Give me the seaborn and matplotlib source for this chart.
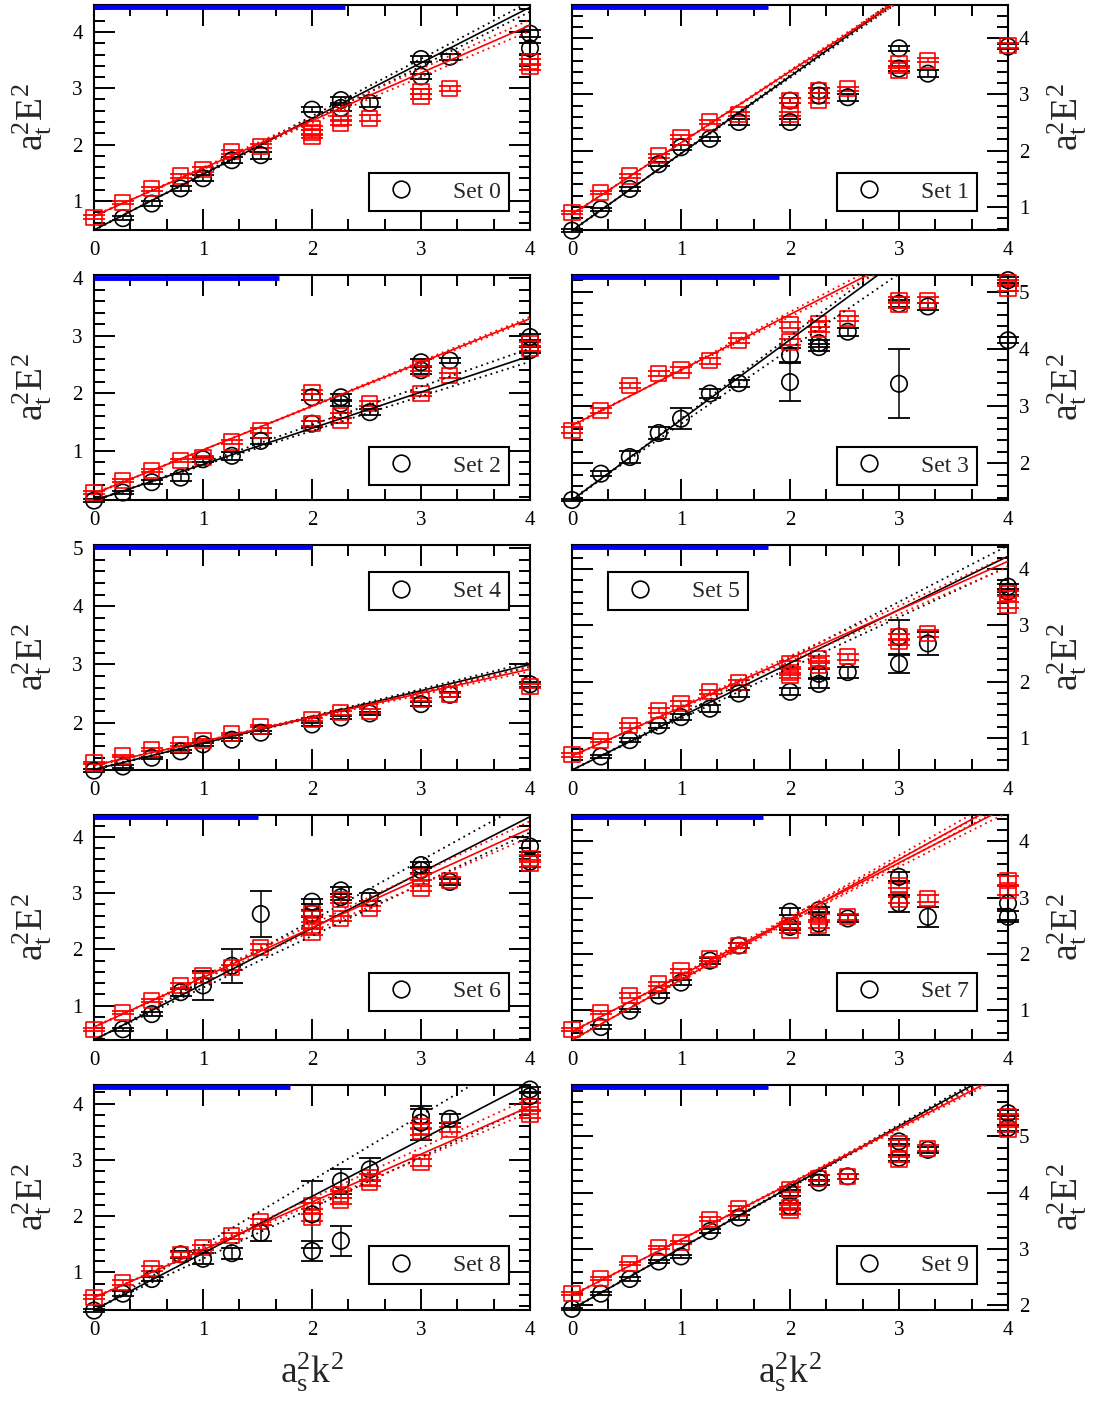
import numpy as np
import pandas as pd
import matplotlib
matplotlib.use("Agg")
import matplotlib.pyplot as plt
import seaborn as sns
from matplotlib.lines import Line2D
from matplotlib.ticker import MultipleLocator

sns.set_theme(style="ticks")
plt.rcParams['font.family'] = ['Liberation Serif', 'DejaVu Serif']
plt.rcParams['mathtext.fontset'] = 'custom'
plt.rcParams['mathtext.rm'] = 'Liberation Serif'
plt.rcParams['mathtext.it'] = 'Liberation Serif:italic'

# ---------------- data (x, y, error) ----------------
set_names = ["Set 0", "Set 1", "Set 2", "Set 3", "Set 4",
             "Set 5", "Set 6", "Set 7", "Set 8", "Set 9"]

s0_black = [(0.265,0.69,.04),(0.53,0.95,.04),(0.795,1.22,.05),(1.0,1.40,.05),(1.265,1.72,.05),(1.53,1.81,.06),
            (2.0,2.62,.05),(2.265,2.79,.05),(2.265,2.65,.05),(2.53,2.74,.08),(3.0,3.52,.05),(3.0,3.21,.05),
            (3.265,3.56,.05),(4.0,3.97,.06),(4.0,3.71,.1)]
s0_red = [(0,0.71,.04),(0.265,0.97,.03),(0.53,1.21,.03),(0.795,1.44,.04),(1.0,1.56,.04),(1.265,1.87,.04),
          (1.53,1.97,.04),(2.0,2.29,.04),(2.0,2.21,.04),(2.0,2.15,.04),(2.265,2.47,.04),(2.265,2.38,.04),
          (2.53,2.47,.05),(3.0,2.94,.04),(3.0,2.85,.04),(3.265,3.0,.04),(4.0,3.47,.05),(4.0,3.38,.05)]

s1_black = [(0,0.58,.02),(0.265,0.96,.03),(0.53,1.32,.04),(0.795,1.76,.04),(1.0,2.06,.04),(1.265,2.21,.04),
            (1.53,2.51,.05),(2.0,2.89,.05),(2.0,2.51,.05),(2.265,3.07,.05),(2.265,2.98,.05),(2.53,2.95,.06),
            (3.0,3.82,.05),(3.0,3.46,.05),(3.265,3.37,.06),(4.0,3.85,.04)]
s1_red = [(0,0.90,.03),(0.265,1.26,.03),(0.53,1.55,.03),(0.795,1.91,.04),(1.0,2.24,.04),(1.265,2.51,.04),
          (1.53,2.65,.04),(2.0,2.89,.04),(2.0,2.65,.04),(2.265,3.07,.04),(2.265,2.89,.04),(2.53,3.10,.04),
          (3.0,3.55,.04),(3.0,3.43,.04),(3.265,3.61,.04),(4.0,3.87,.04)]

s2_black = [(0,0.13,.02),(0.265,0.27,.03),(0.53,0.45,.03),(0.795,0.53,.06),(1.0,0.85,.04),(1.265,0.91,.07),
            (1.53,1.17,.05),(2.0,1.93,.05),(2.0,1.47,.05),(2.265,1.93,.05),(2.265,1.82,.05),(2.53,1.67,.05),
            (3.0,2.54,.06),(3.0,2.40,.06),(3.265,2.57,.05),(4.0,2.98,.05),(4.0,2.75,.05)]
s2_red = [(0,0.27,.03),(0.265,0.48,.03),(0.53,0.65,.03),(0.795,0.83,.03),(1.0,0.88,.03),(1.265,1.15,.03),
          (1.53,1.35,.04),(2.0,2.02,.04),(2.0,1.47,.04),(2.265,1.61,.04),(2.265,1.52,.04),(2.53,1.82,.04),
          (3.0,2.43,.04),(3.0,1.99,.04),(3.265,2.31,.04),(4.0,2.86,.04),(4.0,2.78,.04)]

s3_black = [(0,1.36,.02),(0.265,1.82,.04),(0.53,2.11,.1),(0.795,2.53,.1),(1.0,2.78,.18),(1.265,3.22,.08),
            (1.53,3.40,.06),(2.0,3.89,.12),(2.0,3.42,.33),(2.265,4.03,.06),(2.265,4.10,.06),(2.53,4.30,.07),
            (3.0,4.79,.06),(3.0,3.39,.6),(3.265,4.74,.06),(4.0,4.15,.05),(4.0,5.2,.05)]
s3_red = [(0,2.58,.05),(0.265,2.92,.04),(0.53,3.36,.05),(0.795,3.57,.05),(1.0,3.63,.05),(1.265,3.79,.05),
          (1.53,4.15,.04),(2.0,4.42,.05),(2.0,4.12,.05),(2.265,4.44,.05),(2.265,4.34,.05),(2.53,4.53,.05),
          (3.0,4.85,.05),(3.0,4.77,.05),(3.265,4.85,.05),(4.0,5.15,.05),(4.0,5.06,.05)]

s4_black = [(0,1.18,.02),(0.265,1.25,.02),(0.53,1.40,.02),(0.795,1.51,.02),(1.0,1.63,.03),(1.265,1.71,.03),
            (1.53,1.83,.03),(2.0,1.97,.03),(2.265,2.09,.03),(2.53,2.16,.03),(3.0,2.32,.04),(3.265,2.48,.04),
            (4.0,2.66,.04)]
s4_red = [(0,1.31,.02),(0.265,1.43,.02),(0.53,1.54,.02),(0.795,1.63,.02),(1.0,1.70,.02),(1.265,1.81,.02),
          (1.53,1.94,.02),(2.0,2.06,.03),(2.265,2.17,.03),(2.53,2.20,.03),(3.0,2.40,.03),(3.265,2.48,.03),
          (4.0,2.63,.04)]

s5_black = [(0.265,0.67,.03),(0.53,0.96,.04),(0.795,1.22,.05),(1.0,1.37,.05),(1.265,1.52,.06),(1.53,1.79,.06),
            (2.0,1.82,.06),(2.265,1.96,.08),(2.265,2.14,.08),(2.53,2.17,.1),(3.0,2.32,.16),(3.0,2.80,.3),
            (3.265,2.68,.2),(4.0,3.69,.05),(4.0,3.60,.05)]
s5_red = [(0,0.70,.03),(0.265,0.95,.03),(0.53,1.22,.04),(0.795,1.49,.04),(1.0,1.61,.04),(1.265,1.82,.04),
          (1.53,1.99,.04),(2.0,2.32,.05),(2.0,2.17,.05),(2.0,2.11,.05),(2.265,2.41,.05),(2.265,2.29,.05),
          (2.53,2.44,.05),(3.0,2.80,.05),(3.0,2.71,.05),(3.265,2.86,.06),(4.0,3.57,.05),(4.0,3.36,.05)]

s6_black = [(0.265,0.58,.03),(0.53,0.85,.04),(0.795,1.24,.06),(1.0,1.36,.25),(1.265,1.71,.3),(1.53,2.63,.4),
            (2.0,2.85,.05),(2.0,2.64,.06),(2.265,3.05,.06),(2.265,2.93,.06),(2.53,2.93,.07),(3.0,3.50,.05),
            (3.0,3.41,.05),(3.265,3.20,.06),(4.0,3.83,.1),(4.0,3.56,.1)]
s6_red = [(0,0.58,.03),(0.265,0.88,.03),(0.53,1.09,.03),(0.795,1.36,.04),(1.0,1.54,.04),(1.265,1.68,.05),
          (1.53,2.04,.05),(2.0,2.64,.05),(2.0,2.43,.05),(2.0,2.31,.05),(2.265,2.88,.05),(2.265,2.55,.05),
          (2.53,2.73,.05),(3.0,3.29,.05),(3.0,3.08,.05),(3.265,3.23,.05),(4.0,3.62,.06),(4.0,3.53,.06)]

s7_black = [(0.265,0.70,.03),(0.53,0.99,.03),(0.795,1.26,.05),(1.0,1.49,.05),(1.265,1.88,.05),(1.53,2.15,.05),
            (2.0,2.75,.06),(2.0,2.48,.06),(2.265,2.78,.06),(2.265,2.54,.2),(2.53,2.63,.06),(3.0,3.37,.08),
            (3.0,2.90,.15),(3.265,2.66,.18),(4.0,2.90,.3),(4.0,2.66,.1)]
s7_red = [(0,0.66,.03),(0.265,0.96,.03),(0.53,1.26,.05),(0.795,1.47,.04),(1.0,1.70,.04),(1.265,1.91,.04),
          (1.53,2.15,.04),(2.0,2.51,.05),(2.0,2.42,.05),(2.265,2.66,.05),(2.265,2.51,.05),(2.53,2.66,.05),
          (3.0,3.22,.05),(3.0,2.96,.05),(3.265,2.99,.06),(4.0,3.31,.08),(4.0,3.13,.08)]

s8_black = [(0,0.32,.02),(0.265,0.62,.04),(0.53,0.88,.04),(0.795,1.32,.06),(1.0,1.24,.1),(1.265,1.34,.1),
            (1.53,1.70,.15),(2.0,1.38,.17),(2.0,2.03,.6),(2.265,1.56,.27),(2.265,2.62,.22),(2.53,2.83,.2),
            (3.0,3.78,.12),(3.0,3.66,.3),(3.265,3.73,.08),(4.0,4.25,.05),(4.0,4.13,.05)]
s8_red = [(0,0.56,.04),(0.265,0.82,.04),(0.53,1.07,.04),(0.795,1.32,.04),(1.0,1.44,.04),(1.265,1.65,.05),
          (1.53,1.90,.05),(2.0,2.18,.06),(2.0,1.97,.06),(2.265,2.39,.06),(2.265,2.27,.06),(2.53,2.68,.06),
          (2.53,2.59,.06),(3.0,3.60,.06),(3.0,3.51,.06),(3.0,2.95,.06),(3.265,3.54,.05),(4.0,3.95,.06),
          (4.0,3.81,.06)]

s9_black = [(0,1.94,.02),(0.265,2.21,.03),(0.53,2.47,.03),(0.795,2.78,.03),(1.0,2.87,.03),(1.265,3.32,.04),
            (1.53,3.56,.04),(2.0,4.00,.05),(2.0,3.76,.05),(2.265,4.18,.05),(2.265,4.26,.05),(2.53,4.29,.05),
            (3.0,4.91,.05),(3.0,4.62,.05),(3.265,4.76,.05),(4.0,5.41,.05),(4.0,5.15,.05)]
s9_red = [(0,2.21,.03),(0.265,2.48,.03),(0.53,2.74,.03),(0.795,3.03,.03),(1.0,3.12,.03),(1.265,3.53,.04),
          (1.53,3.72,.04),(2.0,4.06,.05),(2.0,3.74,.05),(2.0,3.68,.05),(2.265,4.26,.05),(2.53,4.29,.05),
          (3.0,4.88,.05),(3.0,4.59,.05),(3.265,4.79,.05),(4.0,5.35,.05),(4.0,5.12,.05)]

black_sets = [s0_black, s1_black, s2_black, s3_black, s4_black, s5_black, s6_black, s7_black, s8_black, s9_black]
red_sets = [s0_red, s1_red, s2_red, s3_red, s4_red, s5_red, s6_red, s7_red, s8_red, s9_red]

# fit lines: (y at x=0, y at x=4) for central, upper, lower
fit_x = [0.0, 4.0]
black_fit = [(0.48,4.44),(0.58,6.06),(0.13,2.65),(1.36,6.96),(1.20,3.00),(0.43,4.23),(0.39,4.36),(0.47,4.75),(0.33,4.37),(1.94,6.26)]
black_hi = [(0.47,4.54),(0.57,6.12),(0.12,2.78),(1.34,7.10),(1.19,3.04),(0.42,4.42),(0.38,4.65),(0.46,4.85),(0.32,4.95),(1.93,6.30)]
black_lo = [(0.49,4.36),(0.59,6.00),(0.14,2.55),(1.38,6.62),(1.21,2.96),(0.44,4.05),(0.40,4.08),(0.48,4.65),(0.34,3.95),(1.95,6.22)]
red_fit = [(0.73,4.12),(0.87,5.95),(0.25,3.30),(2.66,6.54),(1.27,2.92),(0.68,4.14),(0.62,4.15),(0.62,4.62),(0.55,3.95),(2.18,6.14)]
red_hi = [(0.72,4.22),(0.86,6.00),(0.24,3.33),(2.64,6.65),(1.26,2.96),(0.67,4.24),(0.61,4.28),(0.61,4.72),(0.54,4.10),(2.17,6.18)]
red_lo = [(0.74,4.02),(0.88,5.90),(0.26,3.27),(2.68,6.44),(1.28,2.88),(0.69,4.04),(0.63,4.00),(0.63,4.52),(0.56,3.85),(2.19,6.10)]
# colour of the first fit in each panel (Set 7 shows both fits in red)
first_fit_color = ['black', 'black', 'black', 'black', 'black', 'black', 'black', '#ff0000', 'black', 'black']

y_limits = [(0.48,4.48),(0.59,4.59),(0.14,4.06),(1.36,5.29),(1.19,5.05),(0.43,4.43),(0.39,4.39),(0.47,4.47),(0.33,4.33),(1.92,5.91)]
blue_end = [2.30, 1.80, 1.70, 1.90, 2.00, 1.80, 1.50, 1.75, 1.80, 1.80]
blue_y = [4.44, 4.55, 4.01, 5.25, 5.01, 4.39, 4.35, 4.43, 4.29, 5.87]
legend_anchor = [(0.631,0.085),(0.608,0.085),(0.631,0.067),(0.608,0.067),(0.631,0.71),
                 (0.083,0.71),(0.631,0.13),(0.608,0.13),(0.631,0.115),(0.608,0.115)]

# ---------------- figure ----------------
fig = plt.figure(figsize=(11.04, 14.05), dpi=100)
W, H = 1104, 1405
col_left = [94, 572]
ax_w = 436
row_top = [5, 275, 545, 815, 1085]
ax_h = 225

RED = '#ff0000'
dot_style = (0, (1.0, 2.2))

for i in range(10):
    r, c = divmod(i, 2)
    ax = fig.add_axes([col_left[c] / W, 1 - (row_top[r] + ax_h) / H, ax_w / W, ax_h / H])

    for data, col, mk, sz in [(black_sets[i], 'black', 'o', 140), (red_sets[i], RED, 's', 118)]:
        df = pd.DataFrame(data, columns=['x', 'y', 'e'])
        ax.errorbar(df['x'], df['y'], yerr=df['e'], fmt='none', ecolor=col, elinewidth=1.1,
                    capsize=8, capthick=1.3, zorder=3, clip_on=False)
        sns.scatterplot(data=df, x='x', y='y', marker=mk, s=sz, facecolor='none', edgecolor=col,
                        linewidth=1.2, ax=ax, zorder=4, clip_on=False, legend=False)

    for fits, col in [((black_fit, black_hi, black_lo), first_fit_color[i]), ((red_fit, red_hi, red_lo), RED)]:
        central, hi, lo = fits
        sns.lineplot(x=fit_x, y=list(central[i]), color=col, lw=1.2, ax=ax, zorder=5)
        for band in (hi, lo):
            ax.plot(fit_x, list(band[i]), color=col, lw=1.3, ls=dot_style, zorder=5)

    ax.plot([0, blue_end[i]], [blue_y[i], blue_y[i]], color='#0000ff', lw=3.5, zorder=6,
            solid_capstyle='butt')

    ax.set_xlim(0, 4)
    ax.set_ylim(*y_limits[i])
    ax.xaxis.set_major_locator(MultipleLocator(1))
    ax.xaxis.set_minor_locator(MultipleLocator(1 / 3))
    ax.yaxis.set_major_locator(MultipleLocator(1))
    ax.yaxis.set_minor_locator(MultipleLocator(0.2))
    ax.tick_params(which='both', direction='in', top=True, bottom=True, left=True, right=True,
                   colors='black', labelsize=15, width=1.4)
    ax.tick_params(which='major', length=15, pad=8)
    ax.tick_params(which='minor', length=8)
    for sp in ax.spines.values():
        sp.set_linewidth(1.5)
        sp.set_color('black')
    ax.set_xlabel('')
    ylab = r'$\mathrm{a_t^{2}E^{2}}$'
    if c == 0:
        ax.tick_params(labelleft=True, labelright=False)
        ax.set_ylabel(ylab, fontsize=27)
        ax.yaxis.set_label_coords(-0.092, 0.5)
    else:
        ax.tick_params(labelleft=False, labelright=True)
        ax.yaxis.set_label_position('right')
        ax.set_ylabel(ylab, fontsize=27, rotation=90)
        ax.yaxis.set_label_coords(1.087, 0.5)
    if r == 4:
        ax.set_xlabel(r'$\mathrm{a_s^{2}k^{2}}$', fontsize=27, labelpad=8)

    handle = Line2D([], [], marker='o', ls='none', mfc='none', mec='black', ms=12, mew=1.2)
    leg = ax.legend([handle], [set_names[i]], loc='lower left', bbox_to_anchor=legend_anchor[i],
                    fontsize=17, frameon=True, fancybox=False, shadow=False, borderpad=0.35,
                    handlelength=2.0, handletextpad=1.2, borderaxespad=0)
    leg.get_frame().set_edgecolor('black')
    leg.get_frame().set_linewidth(1.5)
    leg.get_frame().set_facecolor('white')
    leg.get_frame().set_alpha(1)
    leg.set_zorder(10)

fig.savefig('out.png', dpi=100)
